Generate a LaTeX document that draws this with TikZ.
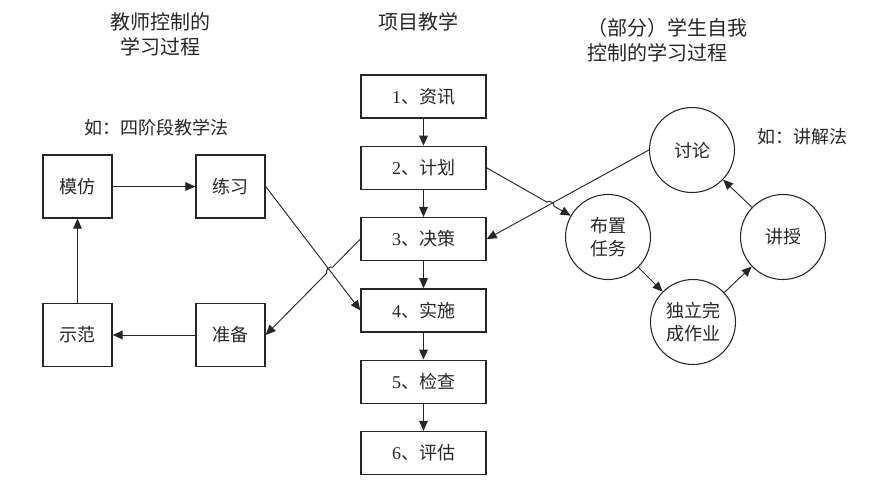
\documentclass[tikz,border=0pt]{standalone}
\usepackage{fontspec}
\setmainfont{Noto Sans CJK SC}
\newfontfamily\numfont{Liberation Serif}
\usetikzlibrary{arrows.meta,calc,intersections}
\definecolor{Ink}{HTML}{262626}

\begin{document}
\begin{tikzpicture}[x=0.75pt,y=-0.75pt,
  txt/.style={text=Ink,font=\fontsize{13.5}{16}\selectfont},
  head/.style={text=Ink,font=\fontsize{15}{19}\selectfont,align=center},
  sqbox/.style={txt,draw=Ink,line width=1pt,minimum width=51.75pt,minimum height=47.25pt,inner sep=0pt},
  stepbox/.style={txt,draw=Ink,line width=1pt,minimum width=93.75pt,minimum height=32.25pt,inner sep=0pt},
  ring/.style={txt,draw=Ink,line width=0.8pt,circle,minimum size=63.75pt,inner sep=0pt,align=center,font=\fontsize{13.5}{17}\selectfont},
  link/.style={draw=Ink,line width=0.7pt,-{Triangle[length=7.5pt,width=6.5pt]}}]
\useasboundingbox (0,0) rectangle (880,489);
% headings
\node[head] (tA) at (160,34.5) {教师控制的\\学习过程};
\node[head] (tB) at (418,22) {项目教学};
\node[head,align=left,anchor=west] (tC) at (583,40.5) {（部分）学生自我\\控制的学习过程};
\node[txt] (eA) at (156,128) {如：四阶段教学法};
\node[txt] (eB) at (802,137) {如：讲解法};
% four steps
\node[sqbox] (mf) at (77.5,186.5) {模仿};
\node[sqbox] (lx) at (230.5,186.5) {练习};
\node[sqbox] (sf) at (77.5,335) {示范};
\node[sqbox] (zb) at (230.5,335) {准备};
% project steps
\foreach \i/\s in {1/资讯,2/计划,3/决策,4/实施,5/检查,6/评估}
  \node[stepbox] (s\i) at (423.5,{96.5+71.3*(\i-1)}) {{\numfont\i}、\s};
\foreach \i [evaluate=\i as \j using int(\i+1)] in {1,...,5}
  \draw[link] (s\i) -- (s\j);
% lecture cycle
\node[ring] (tl) at (692,150) {讨论};
\node[ring] (bz) at (608,237) {布置\\任务};
\node[ring] (dl) at (693,322) {独立完\\成作业};
\node[ring] (js) at (783,237) {讲授};
\draw[link] (mf) -- (lx);
\draw[link] (sf) -- (mf);
\draw[link] (zb) -- (sf);
\draw[link] (bz) -- (dl);
\draw[link] (dl) -- (js);
\draw[link] (js) -- (tl);
% cross links, with hops where they cross
\draw[link,name path=lA] (lx.east) -- (s4.west);
\draw[link,name path=lB] (tl.west) -- (s3.east);
\path[name path=lC] (s3.west) -- (zb.east);
\path[name path=lD] (s2.east) -- (bz);
\path[name intersections={of=lA and lC,by=hA}];
\path[name intersections={of=lB and lD,by=hB}];
\draw[link] (s3.west) -- ($(hA)!3pt!(s3.west)$) to[bend right=90] ($(hA)!3pt!(zb.east)$) -- (zb.east);
\draw[link] (s2.east) -- ($(hB)!3pt!(s2.east)$) to[bend left=90] ($(hB)!3pt!(bz)$) -- (bz);
\end{tikzpicture}
\end{document}
